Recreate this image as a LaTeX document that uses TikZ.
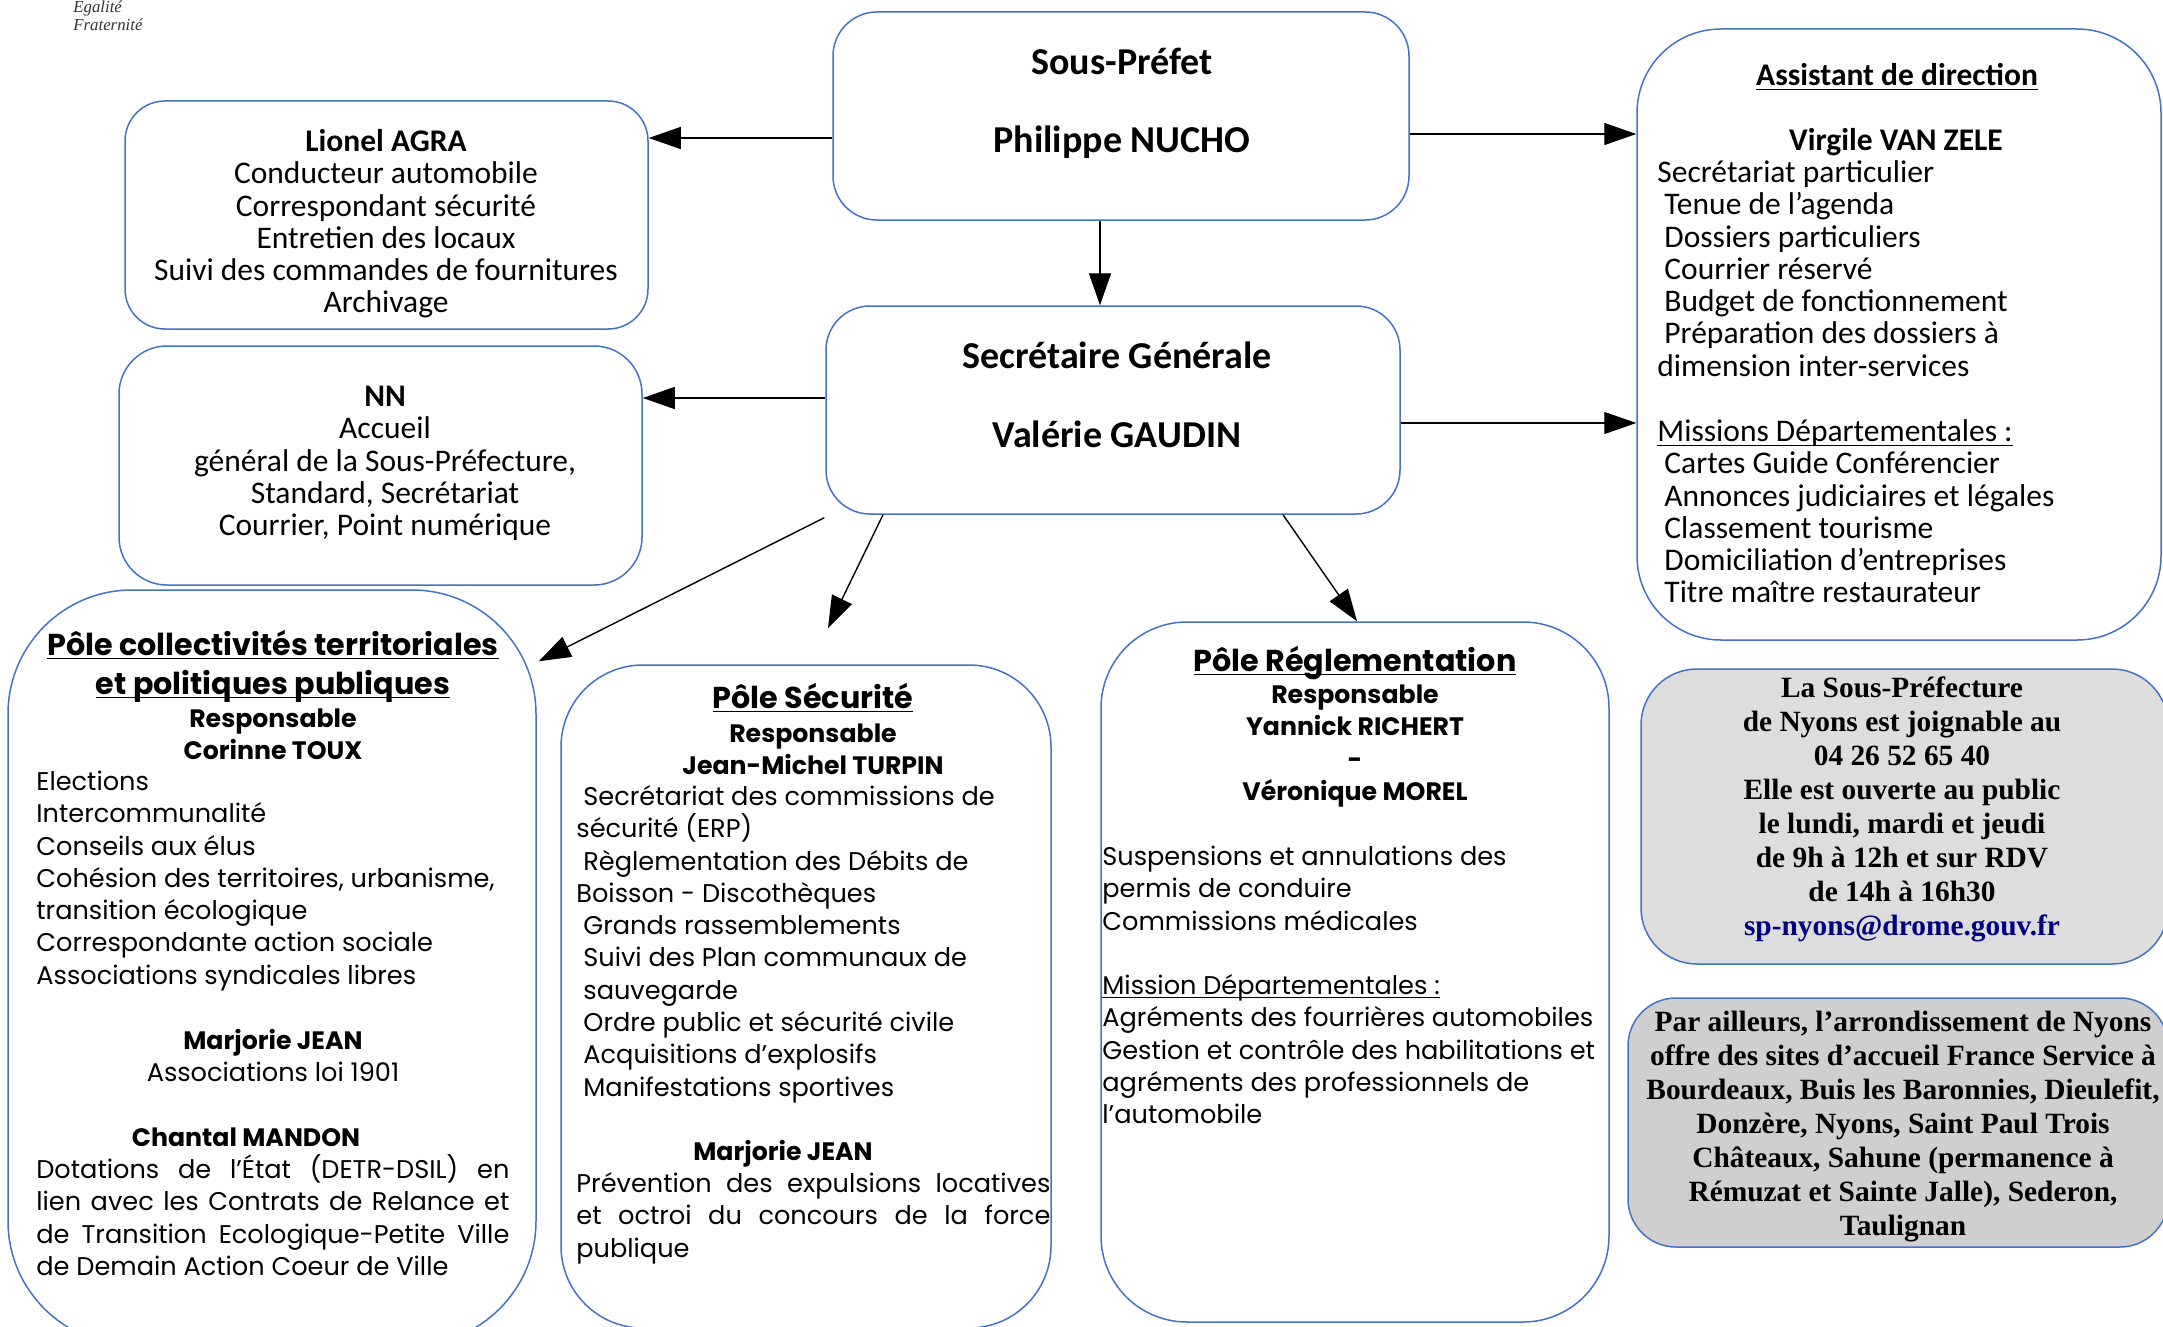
\documentclass[tikz,border=0pt]{standalone}
\usepackage{fontspec}
\setmainfont{Carlito}
\newfontfamily\marfont{Poppins}
\newfontfamily\tmsfont{Liberation Serif}
\usetikzlibrary{arrows.meta,calc}
\definecolor{boxblue}{RGB}{68,114,196}
\definecolor{mailblue}{RGB}{0,0,128}
\definecolor{infoA}{RGB}{221,221,221}
\definecolor{infoB}{RGB}{207,207,207}
\lineskiplimit=-100pt
\lineskip=0pt
\newcommand\topstrut{\rule{0pt}{16pt}}
\newcommand\ulx[2][1.8pt]{\setbox0\hbox{#2}\rlap{\rule[-#1]{\wd0}{0.7pt}}\box0}
\newcommand\fbody{\fontsize{15.75pt}{16.15pt}\selectfont}
\newcommand\fbig{\fontsize{19pt}{20pt}\selectfont\bfseries}
\newcommand\fmar{\marfont\fontsize{12.8pt}{16.15pt}\selectfont}
\newcommand\fmarb{\marfont\bfseries\fontsize{12.6pt}{16.15pt}\selectfont}
\newcommand\fmart{\marfont\bfseries\fontsize{15.1pt}{20pt}\selectfont}
\newcommand\ftms{\tmsfont\bfseries\fontsize{14.7pt}{17pt}\selectfont}
\begin{document}
\begin{tikzpicture}[x=0.5pt,y=-0.5pt,
  box/.style={draw=boxblue, line width=0.75pt, inner sep=0pt},
  tc/.style={inner sep=0pt, anchor=north, align=center},
  tl/.style={inner sep=0pt, anchor=north west, align=left},
  arr/.style={draw=black, line width=0.7pt, -{Triangle[length=16pt,width=11pt]}}]
\useasboundingbox (0,0) rectangle (2163,1327);
% boxes
\node[box, minimum width=288pt, minimum height=104pt, rounded corners=22pt] (sp) at (1121,116) {};
\node[box, minimum width=261.5pt, minimum height=114pt, rounded corners=20pt] (lio) at (386.5,215) {};
\node[box, minimum width=261.5pt, minimum height=119.5pt, rounded corners=24pt] (nn) at (380.5,465.5) {};
\node[box, minimum width=287pt, minimum height=104pt, rounded corners=22pt] (sg) at (1113,410) {};
\node[box, minimum width=262pt, minimum height=305.5pt, rounded corners=42pt] (asst) at (1899,334.5) {};
\node[box, minimum width=264pt, minimum height=377.5pt, rounded corners=62pt] (coll) at (272,967.5) {};
\node[box, minimum width=245pt, minimum height=331.5pt, rounded corners=41pt] (sec) at (806,996.5) {};
\node[box, minimum width=254pt, minimum height=350pt, rounded corners=43pt] (reg) at (1355,972) {};
\node[box, fill=infoA, minimum width=263.5pt, minimum height=147.5pt, rounded corners=28pt] (info1) at (1904.5,816.5) {};
\node[box, fill=infoB, minimum width=270pt, minimum height=124.5pt, rounded corners=24pt] (info2) at (1898,1122.5) {};
% logo text
\node[inner sep=0pt, anchor=base west, font=\tmsfont\itshape\fontsize{8.4pt}{9pt}\selectfont, text=black!80] (eg) at (73,13) {Égalité};
\node[inner sep=0pt, anchor=base west, font=\tmsfont\itshape\fontsize{8.4pt}{9pt}\selectfont, text=black!80] (fr) at (73,31) {Fraternité};
% Sous-Prefet
\node[tc, font=\fbig] (tsp1) at (1122,42) {\topstrut Sous-Préfet};
\node[tc, font=\fbig] (tsp2) at (1122,120) {\topstrut Philippe NUCHO};
% SG
\node[tc, font=\fbig] (tsg1) at (1117,336) {\topstrut Secrétaire Générale};
\node[tc, font=\fbig] (tsg2) at (1117,415) {\topstrut Valérie GAUDIN};
% Lionel
\node[tc, font=\fbody] (tlio) at (386,119) {\topstrut\textbf{Lionel AGRA}\\Conducteur automobile\\Correspondant sécurité\\Entretien des locaux\\Suivi des commandes de fournitures\\Archivage};
% NN
\node[tc, font=\fbody] (tnn) at (385,374) {\topstrut\textbf{NN}\\Accueil\\général de la Sous-Préfecture,\\Standard, Secrétariat\\Courrier, Point numérique};
% Assistant
\node[tc, font=\fbody\bfseries] (tas1) at (1897,53) {\topstrut\ulx[2.5pt]{Assistant de direction}};
\node[tc, font=\fbody\bfseries] (tas2) at (1896,118) {\topstrut Virgile VAN ZELE};
\node[tl, font=\fbody] (tas3) at (1657,150) {\topstrut Secrétariat particulier\\\hspace*{3.5pt}Tenue de l’agenda\\\hspace*{3.5pt}Dossiers particuliers\\\hspace*{3.5pt}Courrier réservé\\\hspace*{3.5pt}Budget de fonctionnement\\\hspace*{3.5pt}Préparation des dossiers à\\dimension inter-services};
\node[tl, font=\fbody] (tas4) at (1657,409) {\topstrut\ulx[2.5pt]{Missions Départementales :}\\\hspace*{3.5pt}Cartes Guide Conférencier\\\hspace*{3.5pt}Annonces judiciaires et légales\\\hspace*{3.5pt}Classement tourisme\\\hspace*{3.5pt}Domiciliation d’entreprises\\\hspace*{3.5pt}Titre maître restaurateur};
% Pole collectivites
\node[tc, font=\fmart] (tco1) at (273,623) {\topstrut\ulx{Pôle collectivités territoriales}};
\node[tc, font=\fmart] (tco2) at (273,662) {\topstrut\ulx{et politiques publiques}};
\node[tc, font=\fmarb] (tco3) at (273,695) {\topstrut Responsable\\Corinne TOUX};
\node[tl, font=\fmar] (tco4) at (36,758) {\topstrut Elections\\Intercommunalité\\Conseils aux élus\\Cohésion des territoires, urbanisme,\\transition écologique\\Correspondante action sociale\\Associations syndicales libres};
\node[tc, font=\fmar] (tco5) at (273,1017) {\topstrut{\fmarb Marjorie JEAN}\\Associations loi 1901};
\node[tc, font=\fmarb] (tco6) at (246,1114) {\topstrut Chantal MANDON};
\node[tl, font=\fmar] (tco7) at (36,1146) {\topstrut\makebox[236.5pt][s]{Dotations de l’État (DETR-DSIL) en}\\\makebox[236.5pt][s]{lien avec les Contrats de Relance et}\\\makebox[236.5pt][s]{de Transition Ecologique-Petite Ville}\\de Demain Action Coeur de Ville};
% Pole securite
\node[tc, font=\fmart] (tse1) at (813,676) {\topstrut\ulx{Pôle Sécurité}};
\node[tc, font=\fmarb] (tse2) at (813,710) {\topstrut Responsable\\Jean-Michel TURPIN};
\node[tl, font=\fmar] (tse3) at (576,773) {\topstrut\hspace*{3.5pt}Secrétariat des commissions de\\sécurité (ERP)\\\hspace*{3.5pt}Règlementation des Débits de\\Boisson - Discothèques\\\hspace*{3.5pt}Grands rassemblements\\\hspace*{3.5pt}Suivi des Plan communaux de\\\hspace*{3.5pt}sauvegarde\\\hspace*{3.5pt}Ordre public et sécurité civile\\\hspace*{3.5pt}Acquisitions d’explosifs\\\hspace*{3.5pt}Manifestations sportives};
\node[tc, font=\fmarb] (tse4) at (783,1128) {\topstrut Marjorie JEAN};
\node[tl, font=\fmar] (tse5) at (576,1160) {\topstrut\makebox[237pt][s]{Prévention des expulsions locatives}\\\makebox[237pt][s]{et octroi du concours de la force}\\publique};
% Pole reglementation
\node[tc, font=\fmart] (tre1) at (1355,639) {\topstrut\ulx{Pôle Réglementation}};
\node[tc, font=\fmarb] (tre2) at (1355,671) {\topstrut Responsable\\Yannick RICHERT\\{-}\\Véronique MOREL};
\node[tl, font=\fmar] (tre3) at (1102,833) {\topstrut Suspensions et annulations des\\permis de conduire\\Commissions médicales};
\node[tl, font=\fmar] (tre4) at (1102,962) {\topstrut\ulx{Mission Départementales :}\\Agréments des fourrières automobiles\\Gestion et contrôle des habilitations et\\agréments des professionnels de\\l’automobile};
% info boxes
\node[tc, font=\ftms] (tin1) at (1902,665) {\topstrut La Sous-Préfecture\\de Nyons est joignable au\\04 26 52 65 40\\Elle est ouverte au public\\le lundi, mardi et jeudi\\de 9h à 12h et sur RDV\\de 14h à 16h30\\\textcolor{mailblue}{sp-nyons@drome.gouv.fr}};
\node[tc, font=\ftms] (tin2) at (1903,999) {\topstrut Par ailleurs, l’arrondissement de Nyons\\offre des sites d’accueil France Service à\\Bourdeaux, Buis les Baronnies, Dieulefit,\\Donzère, Nyons, Saint Paul Trois\\Châteaux, Sahune (permanence à\\Rémuzat et Sainte Jalle), Sederon,\\Taulignan};
% connectors
\coordinate (secend) at (828,628);
\draw[arr] (sp.west |- 0,138) -- (lio.east |- 0,138);
\draw[arr] (sp.south -| 1100,0) -- (sg.north -| 1100,0);
\draw[arr] (sp.east |- 0,134) -- (asst.west |- 0,134);
\draw[arr] (sg.east |- 0,423) -- (asst.west |- 0,423);
\draw[arr] (sg.west |- 0,398) -- (nn.east |- 0,398);
\draw[arr] ($(sg.south west)+(-1,3)$) -- ($(coll.north east)+(2,72)$);
\draw[arr] (sg.south -| 883,0) -- (secend);
\draw[arr] (sg.south -| 1283,0) -- (reg.north -| 1357,0);
\end{tikzpicture}
\end{document}
